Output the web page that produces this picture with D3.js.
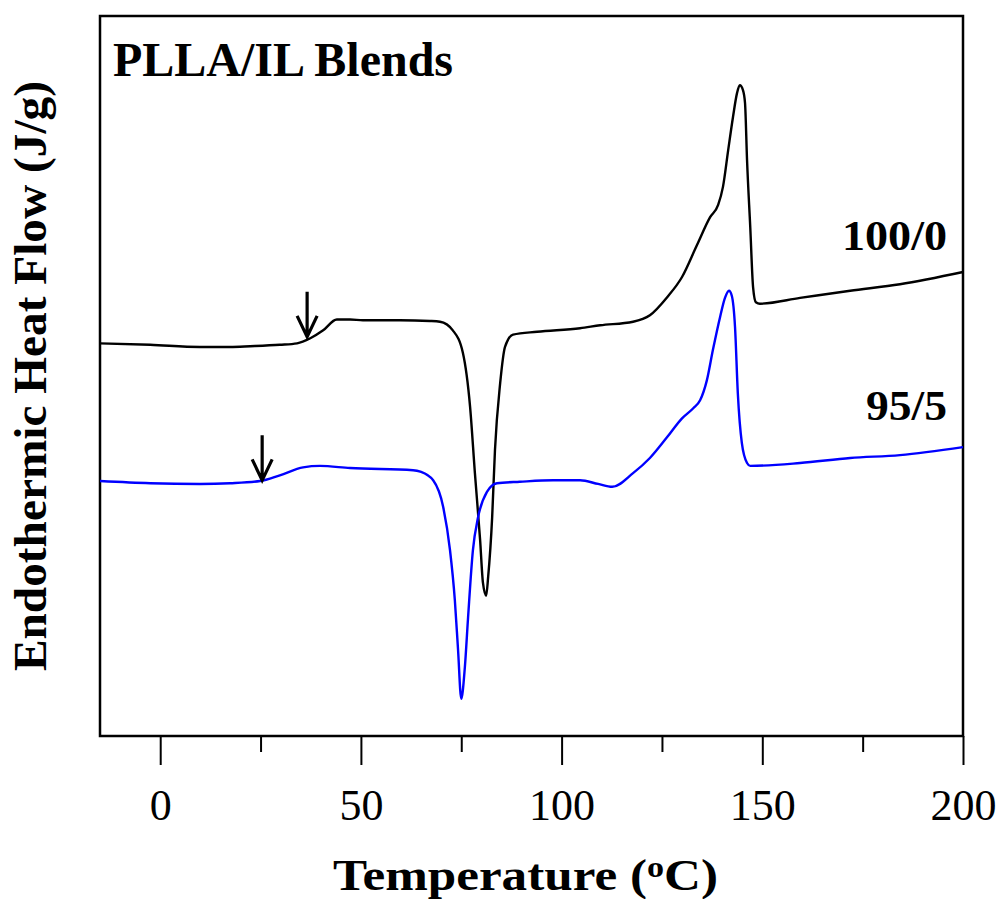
<!DOCTYPE html>
<html>
<head>
<meta charset="utf-8">
<script src="https://cdn.jsdelivr.net/npm/d3@7"></script>
<style>
  body { margin: 0; background: #ffffff; }
  text { font-family: 'Liberation Serif', 'Times New Roman', serif; fill: #000; }
</style>
</head>
<body>
<div id="chart"></div>
<script>

// DSC traces (temperature in C, heat flow in arbitrary units)
var temp100 = [-15, -2.5, 9.9, 17.4, 22.4, 29.8, 34.1, 37.4, 40.6, 44.0, 47.3, 50.5, 59.7, 67.2, 69.7,
    72.9, 75.4, 77.2, 78.4, 79.7, 80.4, 81.2, 81.7, 82.7, 83.4, 84.7, 85.9, 87.9, 93.9, 104.6,
    109.6, 117.8, 122.0, 126.3, 130.0, 133.7, 137.0, 139.0, 140.2, 141.5, 142.7, 143.7, 144.4,
    145.2, 145.7, 146.2, 147.0, 147.7, 148.4, 149.4, 159.4, 171.9, 184.3, 200];
var flow100 = [5.46, 5.44, 5.41, 5.41, 5.42, 5.44, 5.46, 5.53, 5.64, 5.79, 5.79, 5.78, 5.78, 5.77, 5.76,
    5.64, 5.33, 4.58, 3.66, 2.73, 2.14, 1.96, 2.22, 3.05, 3.98, 4.91, 5.41, 5.58, 5.62, 5.67,
    5.71, 5.76, 5.85, 6.10, 6.38, 6.82, 7.21, 7.38, 7.63, 8.14, 8.60, 8.93, 9.04,
    8.97, 8.79, 8.00, 7.07, 6.24, 6.03, 6.01, 6.09, 6.19, 6.28, 6.45];

var temp95 = [-15, -2.5, 9.9, 17.4, 24.9, 29.8, 35.6, 39.8, 47.3, 63.0, 64.8, 68.0, 70.5, 72.2,
    73.4, 74.2, 75.0, 75.9, 76.7, 77.9, 79.2, 81.4, 83.9, 89.6, 97.9, 104.6, 109.1, 112.6,
    117.8, 122.0, 126.3, 130.0, 132.8, 134.5, 136.2, 137.7, 139.5, 140.7, 141.7, 142.4, 143.2,
    143.9, 144.9, 146.2, 147.0, 159.4, 171.9, 184.3, 200];
var flow95 = [3.55, 3.52, 3.51, 3.52, 3.55, 3.63, 3.74, 3.76, 3.73, 3.70, 3.68, 3.56, 3.19, 2.59,
    1.90, 1.21, 0.53, 0.97, 1.66, 2.59, 3.05, 3.40, 3.52, 3.54, 3.56, 3.56, 3.51, 3.47,
    3.66, 3.87, 4.16, 4.42, 4.56, 4.67, 4.95, 5.37, 5.83, 6.09, 6.19, 6.12, 5.69,
    4.77, 4.08, 3.80, 3.76, 3.80, 3.87, 3.91, 4.02];

var xTicks = [0, 50, 100, 150, 200];
var xMinorTicks = [25, 75, 125, 175];

var seriesNames = ['100/0', '95/5'];
var seriesColors = ['#000000', '#0000ff'];
var labelFlows = [6.75, 4.4];

// glass transition markers
var arrowTemps = [36.6, 25.4];
var arrowFlows = [5.55, 3.56];

var width = 1000;
var height = 899;
var plot = { left: 100, right: 963, top: 16, bottom: 736 };

var svg = d3.select('#chart').append('svg')
    .attr('width', width)
    .attr('height', height);

var x = d3.scaleLinear().domain([-15, 200]).range([plot.left, plot.right]);
var y = d3.scaleLinear().domain([0, 10]).range([737, 16]);

var line = d3.line()
    .x(function (d) { return x(d[0]); })
    .y(function (d) { return y(d[1]); })
    .curve(d3.curveMonotoneX);

var series = [d3.zip(temp100, flow100), d3.zip(temp95, flow95)];

// BEGIN axes
var major = svg.append('g')
    .attr('transform', 'translate(0,' + plot.bottom + ')')
    .call(d3.axisBottom(x).tickValues(xTicks).tickSize(29).tickFormat(d3.format('d')));
major.select('.domain').remove();
major.selectAll('line').attr('stroke', '#000').attr('stroke-width', 2);
major.selectAll('text')
    .attr('y', 84)
    .attr('dy', null)
    .style('font-size', '44px')
    .style('font-family', "'Liberation Serif', 'Times New Roman', serif");

var minor = svg.append('g')
    .attr('transform', 'translate(0,' + plot.bottom + ')')
    .call(d3.axisBottom(x).tickValues(xMinorTicks).tickSize(16).tickFormat(''));
minor.select('.domain').remove();
minor.selectAll('line').attr('stroke', '#000').attr('stroke-width', 2);

svg.append('rect')
    .attr('x', plot.left)
    .attr('y', plot.top)
    .attr('width', plot.right - plot.left)
    .attr('height', plot.bottom - plot.top)
    .attr('fill', 'none')
    .attr('stroke', '#000')
    .attr('stroke-width', 2.5);
// END axes

// BEGIN curves
svg.selectAll('path.trace')
    .data(series)
    .enter()
    .append('path')
    .attr('class', 'trace')
    .attr('d', line)
    .attr('fill', 'none')
    .attr('stroke', function (d, i) { return seriesColors[i]; })
    .attr('stroke-width', 2.4)
    .attr('stroke-linejoin', 'round');

svg.selectAll('path.marker')
    .data(arrowTemps)
    .enter()
    .append('path')
    .attr('class', 'marker')
    .attr('d', function (d, i) {
        var tx = x(d), ty = y(arrowFlows[i]);
        return 'M' + tx + ',' + (ty - 45) + 'V' + ty +
            'M' + (tx - 10) + ',' + (ty - 21) + 'L' + tx + ',' + ty + 'L' + (tx + 10) + ',' + (ty - 21);
    })
    .attr('fill', 'none')
    .attr('stroke', '#000')
    .attr('stroke-width', 3.2);
// END curves

// BEGIN text
svg.selectAll('text.series-label')
    .data(seriesNames)
    .enter()
    .append('text')
    .attr('class', 'series-label')
    .attr('x', 947)
    .attr('y', function (d, i) { return y(labelFlows[i]); })
    .attr('text-anchor', 'end')
    .attr('textLength', function (d, i) { return i === 0 ? 105 : 81; })
    .attr('lengthAdjust', 'spacingAndGlyphs')
    .style('font-size', '42px')
    .style('font-weight', 'bold')
    .text(function (d) { return d; });

svg.append('text')
    .attr('x', 113)
    .attr('y', 76)
    .attr('textLength', 340)
    .attr('lengthAdjust', 'spacingAndGlyphs')
    .style('font-size', '48px')
    .style('font-weight', 'bold')
    .text('PLLA/IL Blends');

var xTitle = svg.append('text')
    .attr('x', 333)
    .attr('y', 890)
    .attr('textLength', 385)
    .attr('lengthAdjust', 'spacingAndGlyphs')
    .style('font-size', '45px')
    .style('font-weight', 'bold');
xTitle.append('tspan').text('Temperature (');
xTitle.append('tspan').attr('dy', -13).style('font-size', '30px').text('o');
xTitle.append('tspan').attr('dy', 13).text('C)');

svg.append('text')
    .attr('transform', 'translate(46,671) rotate(-90)')
    .attr('textLength', 590)
    .attr('lengthAdjust', 'spacingAndGlyphs')
    .style('font-size', '47px')
    .style('font-weight', 'bold')
    .text('Endothermic Heat Flow (J/g)');
// END text

</script>
</body>
</html>
